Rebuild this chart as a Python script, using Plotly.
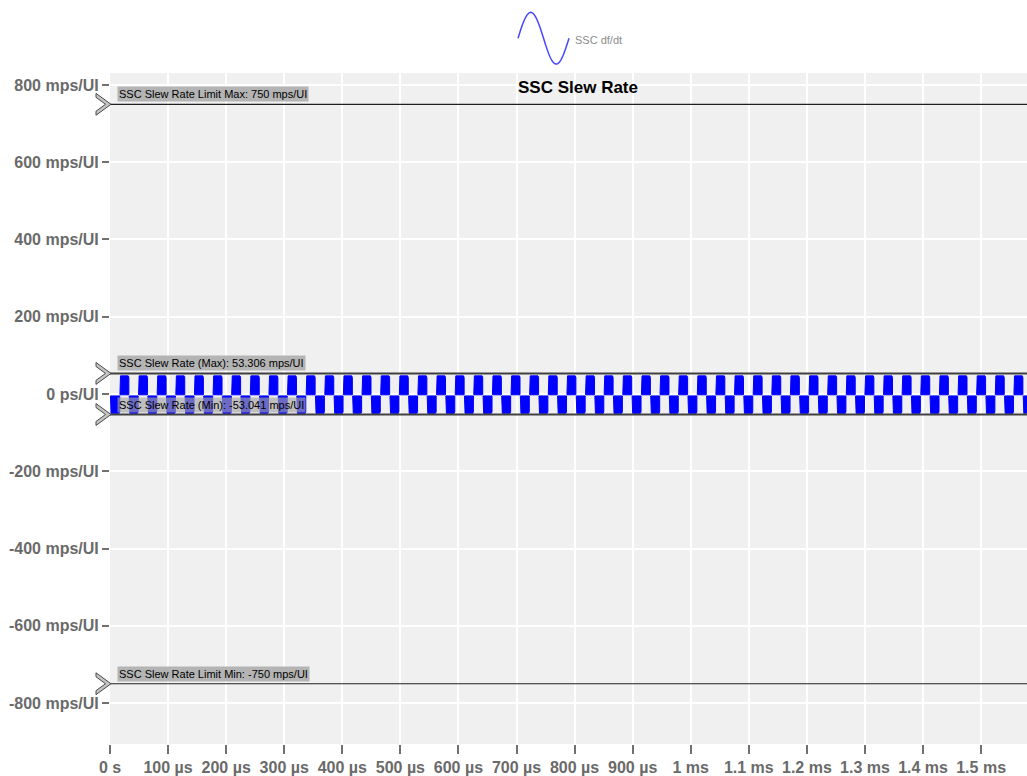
import numpy as np
import plotly.graph_objects as go

# ---------------- data ----------------
x_tick_vals_us = [0, 100, 200, 300, 400, 500, 600, 700, 800, 900, 1000, 1100, 1200, 1300, 1400, 1500]
x_tick_text = ["0 s", "100 µs", "200 µs", "300 µs", "400 µs", "500 µs", "600 µs", "700 µs", "800 µs",
               "900 µs", "1 ms", "1.1 ms", "1.2 ms", "1.3 ms", "1.4 ms", "1.5 ms"]
y_tick_vals = [800, 600, 400, 200, 0, -200, -400, -600, -800]
y_tick_text = ["800 mps/UI", "600 mps/UI", "400 mps/UI", "200 mps/UI", "0 ps/UI",
               "-200 mps/UI", "-400 mps/UI", "-600 mps/UI", "-800 mps/UI"]

# centres of the positive slew phases, µs
high_centers_us = [24.8, 56.9, 88.9, 121.0, 153.1, 185.2, 217.2, 249.3, 281.4, 313.4,
                   345.5, 377.6, 409.6, 441.7, 473.8, 505.9, 537.9, 570.0, 602.1, 634.1,
                   666.2, 698.3, 730.3, 762.4, 794.5, 826.6, 858.6, 890.7, 922.8, 954.8,
                   986.9, 1019.0, 1051.0, 1083.1, 1115.2, 1147.3, 1179.3, 1211.4, 1243.5, 1275.5,
                   1307.6, 1339.7, 1371.7, 1403.8, 1435.9, 1468.0, 1500.0, 1532.1, 1564.2]
half_period_us = 16.0
high_band = [-2.0, 47.0]     # noise band of positive phase, mps/UI
low_band = [-50.0, -5.0]     # noise band of negative phase, mps/UI
data_start_us = 0.5
data_end_us = 1579.0

limit_max = 750
limit_min = -750
meas_max = 53.306
meas_min = -53.041

X_RANGE = [0, 1579]
Y_RANGE = [-906, 831]

# ---------------- build waveform blobs ----------------
def blob(t0, t1, lo, hi, up=True):
    t0 = max(t0, data_start_us)
    t1 = min(t1, data_end_us)
    if t1 <= t0:
        return [], []
    r = min(1.0, (t1 - t0) / 4)
    if up:
        xs = [t0, t0, t0 + r, t1 - r, t1, t1, t0]
        ys = [lo, hi - 4, hi, hi, hi - 4, lo, lo]
    else:
        xs = [t0, t0, t0 + r, t1 - r, t1, t1, t0]
        ys = [hi, lo + 4, lo, lo, lo + 4, hi, hi]
    return xs, ys

wx, wy = [], []
first = high_centers_us[0] - half_period_us / 2
xs, ys = blob(first - half_period_us, first, low_band[0], low_band[1], up=False)
wx += xs + [None]; wy += ys + [None]
for c in high_centers_us:
    a = c - half_period_us / 2
    b = c + half_period_us / 2
    xs, ys = blob(a + 0.3, b - 0.3, high_band[0], high_band[1], up=True)
    wx += xs + [None]; wy += ys + [None]
    xs, ys = blob(b + 0.3, b + half_period_us - 0.3, low_band[0], low_band[1], up=False)
    wx += xs + [None]; wy += ys + [None]

fig = go.Figure()
fig.add_trace(go.Scatter(x=wx, y=wy, mode="lines", fill="toself",
                         fillcolor="#0000ff", line=dict(color="#0000ff", width=1),
                         showlegend=False, hoverinfo="skip"))

# ---------------- layout ----------------
L, R, T, B = 110, 0, 73, 28
W, H = 1027, 776
PW, PH = W - L - R, H - T - B

def px2x(px):
    return (px - L) / PW

def py2y(py):
    return (H - B - py) / PH

shapes = []
for v, col, w in [(limit_max, "#202020", 1.2), (limit_min, "#202020", 1.2),
                  (meas_max, "#404040", 2), (meas_min, "#404040", 2)]:
    shapes.append(dict(type="line", xref="paper", yref="y", x0=0, x1=1, y0=v, y1=v,
                       line=dict(color=col, width=w), layer="above"))

unit_per_px = (Y_RANGE[1] - Y_RANGE[0]) / PH
for v in [limit_max, meas_max, meas_min, limit_min]:
    pts = [(96, -11), (111, 0), (96, 11), (96, 7), (105.5, 0), (96, -7)]
    path = "M " + " L ".join(f"{px2x(px):.5f},{v - dy * unit_per_px:.3f}" for px, dy in pts) + " Z"
    shapes.append(dict(type="path", xref="paper", yref="y", path=path,
                       fillcolor="#c4c4c4", line=dict(color="#4a4a4a", width=1), layer="above"))

# legend icon (sine) above plot
sx = np.linspace(518, 569, 60)
sy = 38 - 26 * np.sin(2 * np.pi * (sx - 518) / 51)
spath = "M " + " L ".join(f"{px2x(a):.5f},{py2y(b):.5f}" for a, b in zip(sx, sy))
shapes.append(dict(type="path", xref="paper", yref="paper", path=spath,
                   line=dict(color="#4646ff", width=1.5)))

annotations = [
    dict(text="SSC Slew Rate", xref="paper", yref="paper", x=px2x(577.5), y=py2y(88),
         xanchor="center", yanchor="middle", showarrow=False,
         font=dict(family="Liberation Sans, Arial", size=17, color="#000000", weight="bold")),
    dict(text="SSC df/dt", xref="paper", yref="paper", x=px2x(573), y=py2y(40),
         xanchor="left", yanchor="middle", showarrow=False,
         font=dict(family="Liberation Sans, Arial", size=11, color="#8c8c8c")),
]
for v, txt, bg in [(limit_max, "SSC Slew Rate Limit Max: 750 mps/UI", "#b4b4b4"),
                   (meas_max, "SSC Slew Rate (Max): 53.306 mps/UI", "#b4b4b4"),
                   (meas_min, "SSC Slew Rate (Min): -53.041 mps/UI", "rgba(165,165,165,0.65)"),
                   (limit_min, "SSC Slew Rate Limit Min: -750 mps/UI", "#b4b4b4")]:
    annotations.append(dict(text=txt, xref="paper", yref="y", x=px2x(116.5), y=v,
                            xanchor="left", yanchor="bottom", yshift=2, showarrow=False,
                            bgcolor=bg, borderpad=1,
                            font=dict(family="Liberation Sans, Arial", size=11, color="#000000")))

tickfont = dict(family="Liberation Sans, Arial", size=16, color="#6a6a6a", weight="bold")
fig.update_layout(
    width=W, height=H,
    margin=dict(l=L, r=R, t=T, b=B, pad=0),
    paper_bgcolor="#ffffff", plot_bgcolor="#f0f0f0",
    showlegend=False,
    shapes=shapes, annotations=annotations,
    xaxis=dict(range=X_RANGE, tickmode="array", tickvals=x_tick_vals_us, ticktext=x_tick_text,
               showgrid=True, gridcolor="#ffffff", gridwidth=2, zeroline=False, showline=False,
               ticks="outside", ticklen=9, tickwidth=1.5, tickcolor="#707070", tickfont=tickfont),
    yaxis=dict(range=Y_RANGE, tickmode="array", tickvals=y_tick_vals, ticktext=y_tick_text,
               showgrid=True, gridcolor="#ffffff", gridwidth=2, zeroline=False, showline=False,
               ticks="outside", ticklen=7, tickwidth=1.5, tickcolor="#707070", tickfont=tickfont),
)

fig.write_html("out.html", config={"displayModeBar": False},
               post_script="document.body.style.margin='0px';document.body.style.overflow='hidden';")
